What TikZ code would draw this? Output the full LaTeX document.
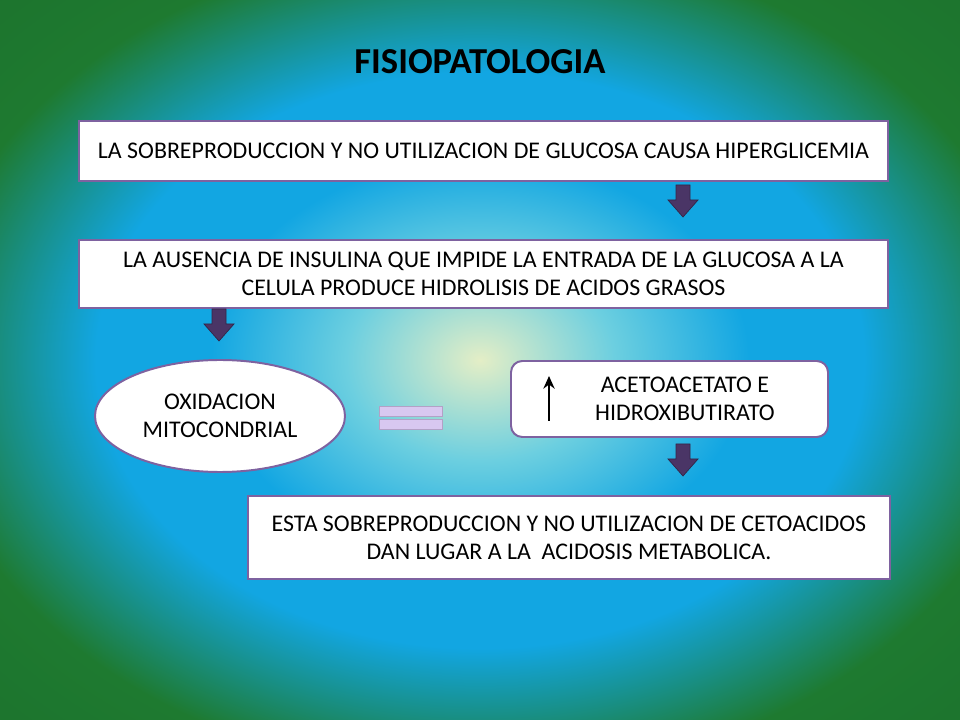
\documentclass[tikz,border=0pt]{standalone}
\usepackage{fontspec}
\setmainfont{Carlito}
\usetikzlibrary{shapes.geometric,arrows.meta}
\definecolor{edgegreen}{HTML}{1E7A30}
\definecolor{midblue}{HTML}{12A6E2}
\definecolor{lightcyan}{HTML}{6CCFE0}
\definecolor{centerglow}{HTML}{E4EEC6}
\definecolor{boxline}{HTML}{7E62A0}
\definecolor{arrowfill}{HTML}{4A3566}
\definecolor{barfill}{HTML}{D8C8F0}
\pgfdeclareradialshading{backglow}{\pgfpoint{0bp}{0bp}}{%
  color(0bp)=(centerglow); color(7bp)=(lightcyan); color(14bp)=(midblue); color(20bp)=(midblue);
  color(25bp)=(midblue!45!edgegreen); color(29bp)=(edgegreen); color(50bp)=(edgegreen!85!black)}
\tikzset{%
  % Specifications for style of nodes:
         base/.style =  { draw = boxline, line width=1.4pt, fill=white, align=center, font=\fontsize{17}{20}\selectfont },
         box/.style =   { base, rectangle, inner sep=0pt },
         roundbox/.style = { base, rectangle, rounded corners=8pt, inner sep=0pt },
         oval/.style =  { base, ellipse, inner sep=0pt },
         blockarrow/.style = { fill=arrowfill, draw=arrowfill!70!black, line width=0.5pt },
         bar/.style = { fill=barfill, draw=boxline!60, line width=0.4pt },
}
\newcommand{\downblock}[2]{%
  \draw[blockarrow] (#1-7,#2) -- (#1+7,#2) -- (#1+7,#2+15) -- (#1+15,#2+15) -- (#1,#2+32)
    -- (#1-15,#2+15) -- (#1-7,#2+15) -- cycle;}
\begin{document}
\begin{tikzpicture}[x=0.025cm, y=-0.025cm]
    % Background
    \shade[shading=backglow] (0,0) rectangle (960,720);
    \useasboundingbox (0,0) rectangle (960,720);

    % Title
    \node (title) at (480,62) {\fontsize{26}{30}\selectfont\bfseries FISIOPATOLOGIA};

    % Draw nodes
    \node (hiper)  [box, minimum width=809*0.025cm, minimum height=60*0.025cm] at (483.5,151)
        {LA SOBREPRODUCCION Y NO UTILIZACION DE GLUCOSA CAUSA HIPERGLICEMIA};
    \node (insul)  [box, minimum width=809*0.025cm, minimum height=68*0.025cm] at (483.5,274)
        {LA AUSENCIA DE INSULINA QUE IMPIDE LA ENTRADA DE LA GLUCOSA A LA\\CELULA PRODUCE HIDROLISIS DE ACIDOS GRASOS};
    \node (oxid)   [oval, minimum width=250*0.025cm, minimum height=112*0.025cm] at (220,416)
        {OXIDACION\\MITOCONDRIAL};
    \node (aceto)  [roundbox, minimum width=317*0.025cm, minimum height=76*0.025cm] at (669.5,399)
        {\hspace*{22pt}ACETOACETATO E\\\hspace*{22pt}HIDROXIBUTIRATO};
    \node (acid)   [box, minimum width=642*0.025cm, minimum height=83*0.025cm] at (569,537.5)
        {ESTA SOBREPRODUCCION Y NO UTILIZACION DE CETOACIDOS\\DAN LUGAR A LA\ \ ACIDOSIS METABOLICA.};

    % Draw arrows
    \downblock{683}{185}
    \downblock{219}{309}
    \downblock{683}{444}
    \draw[-{Stealth[length=9pt,width=8pt]}, line width=1.8pt] (549,421) -- (549,376);

    % Equals sign
    \draw[bar] (379,406) rectangle (442,416);
    \draw[bar] (379,419) rectangle (442,429);
\end{tikzpicture}
\end{document}
